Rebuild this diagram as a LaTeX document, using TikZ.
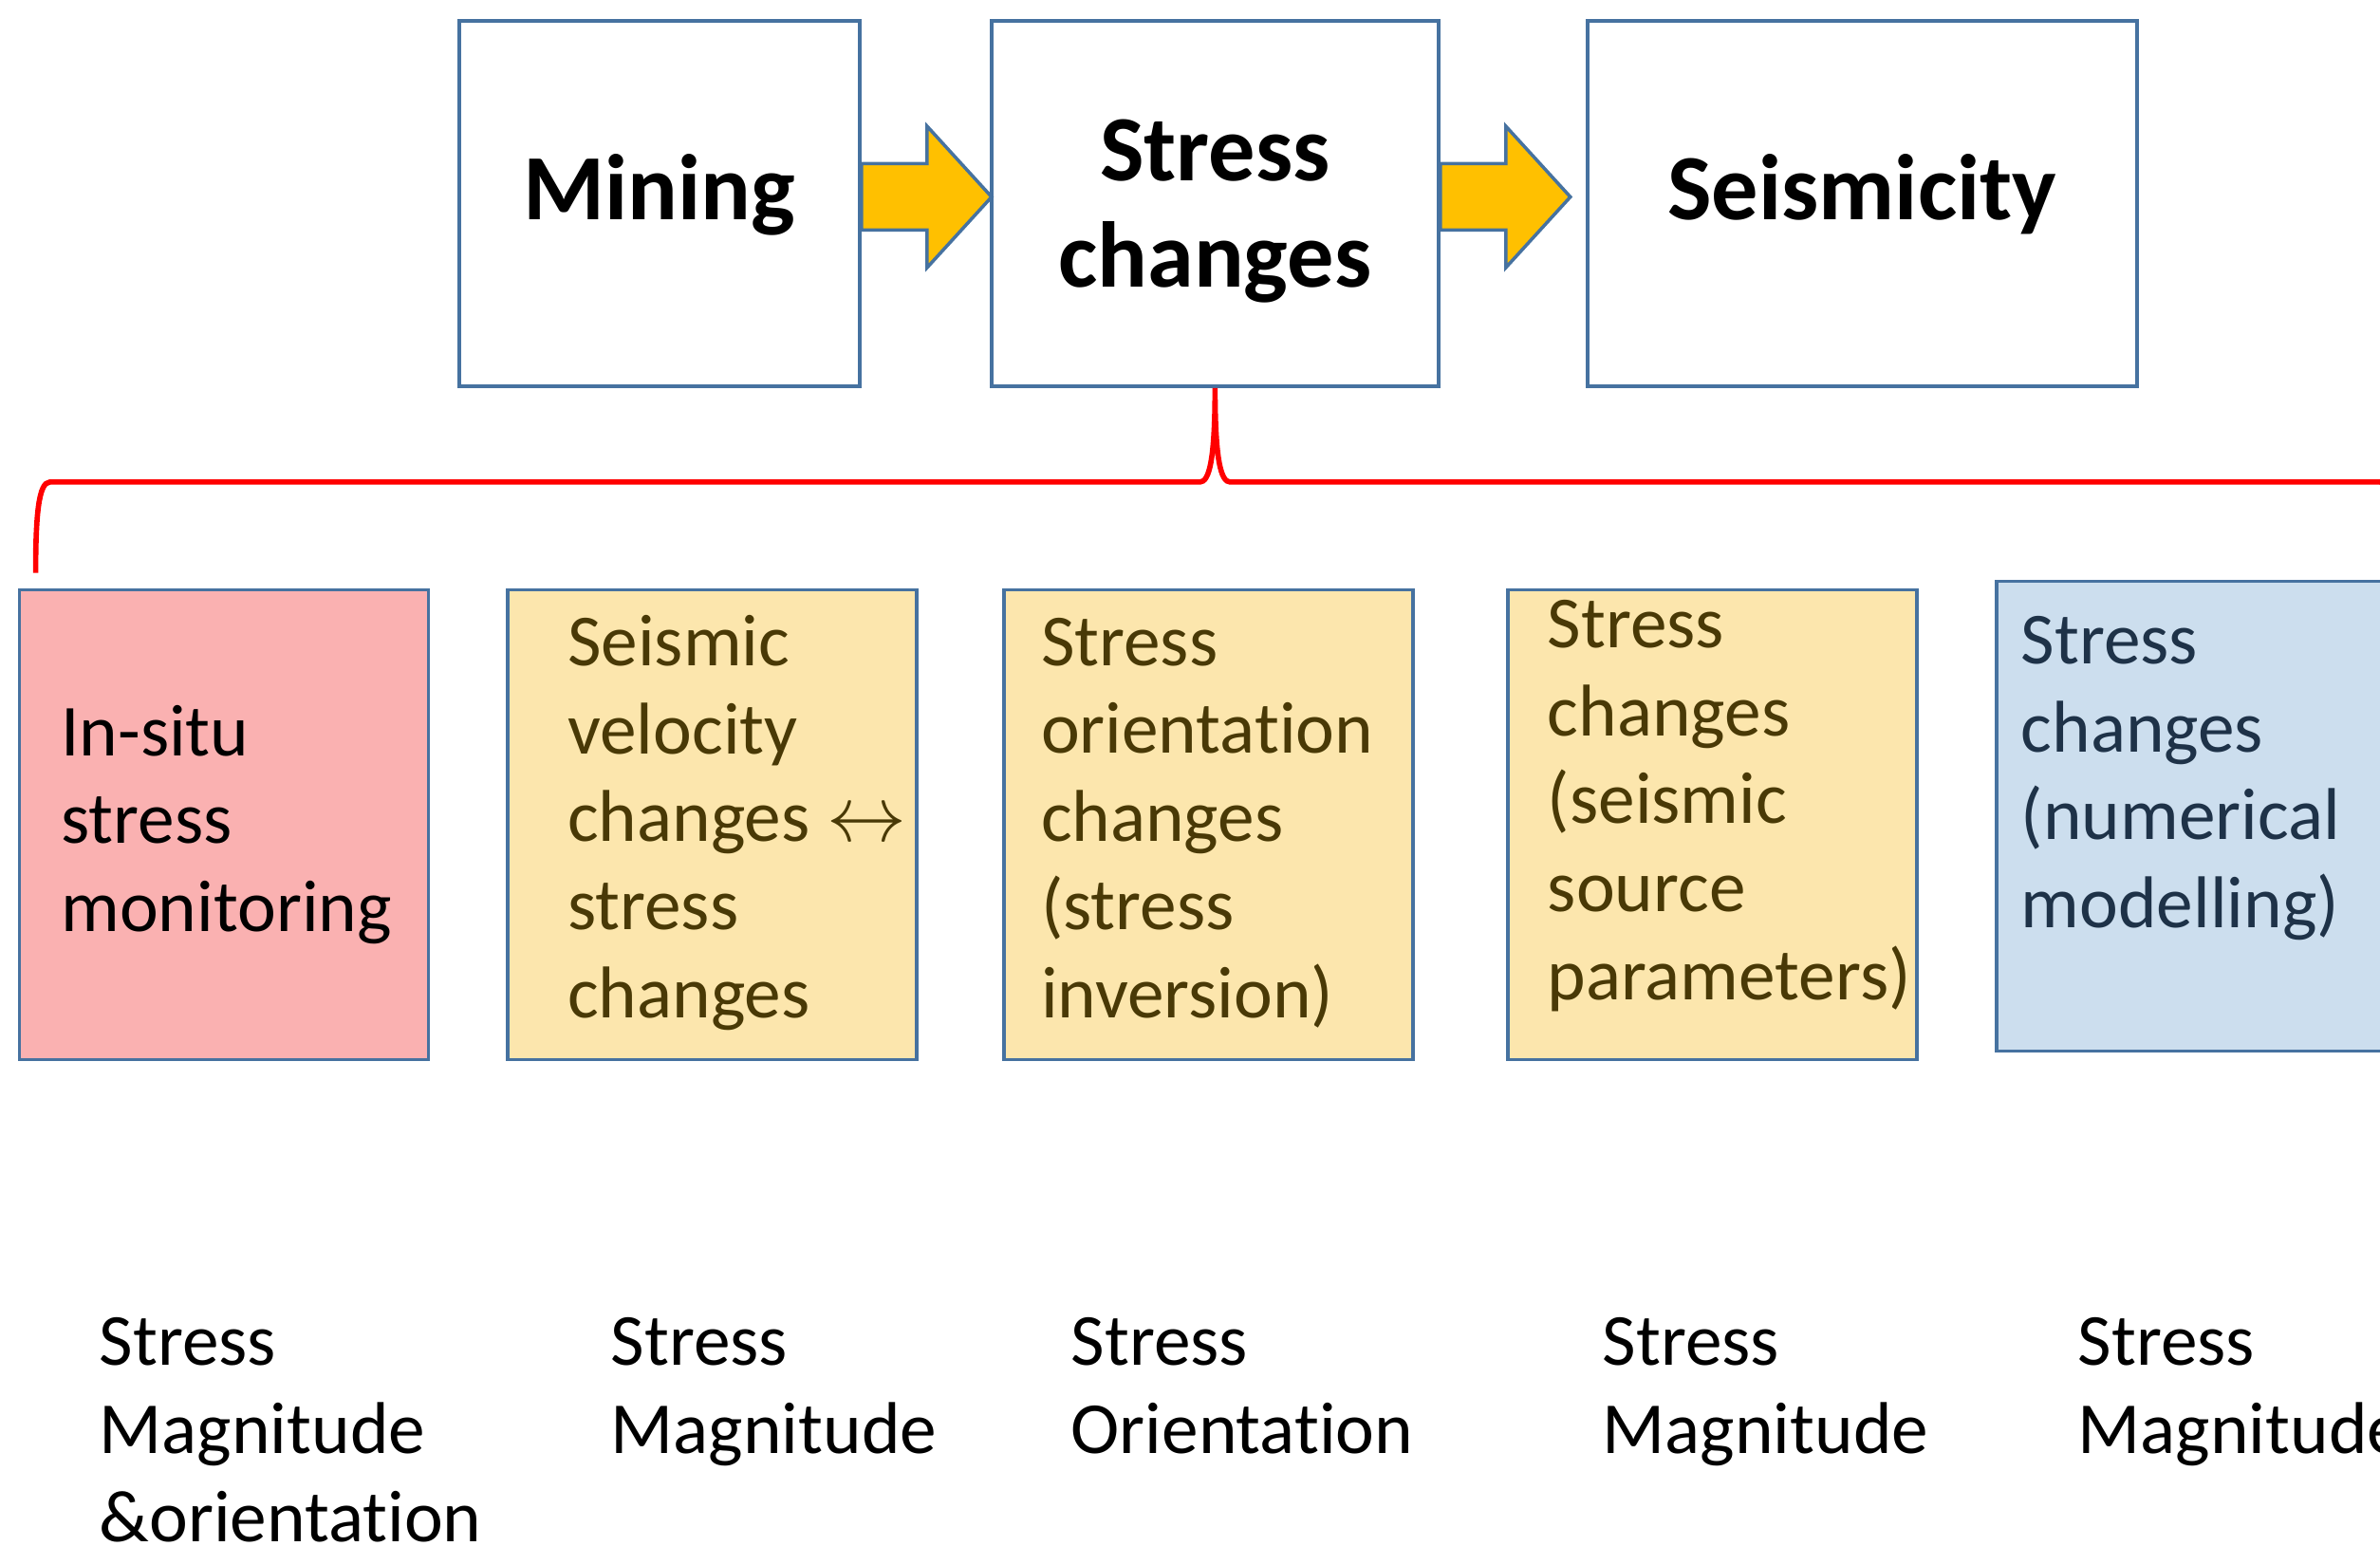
\documentclass[tikz,border=0pt]{standalone}
\usepackage{graphicx}
\usepackage{fontspec}
\setmainfont{Carlito}[Ligatures=NoCommon]
\usetikzlibrary{positioning,calc}

\definecolor{boxblue}{RGB}{70,114,160}
\definecolor{arrowgold}{RGB}{255,192,0}
\definecolor{pinkfill}{RGB}{250,177,177}
\definecolor{sandfill}{RGB}{252,230,173}
\definecolor{skyfill}{RGB}{204,222,238}
\definecolor{sandtext}{RGB}{73,57,6}
\definecolor{skytext}{RGB}{30,50,72}

\begin{document}
\begin{tikzpicture}[
        topbox/.style={
        draw=boxblue,
        line width=1.1pt,
        align=center,
        minimum height=3.85cm,
        font=\fontsize{28}{32}\selectfont\bfseries},
        lowbox/.style={
        draw=boxblue,
        line width=1.1pt,
        minimum width=4.31cm,
        minimum height=4.95cm},
        boxtext/.style={
        anchor=west,
        align=left,
        inner sep=0pt,
        font=\fontsize{22}{26.4}\selectfont},
        lbl/.style={
        anchor=north west,
        align=left,
        inner sep=0pt,
        font=\fontsize{22}{26.4}\selectfont},
        fatarrow/.style={draw=boxblue, line width=1pt, fill=arrowgold},
        bracket/.style={draw=red, line width=1.6pt}
        ]
        \path[use as bounding box, fill=white] (0,0) rectangle (25.08,-16.29);

        % chain on top
        \node[topbox, minimum width=4.22cm, text depth=10pt] (mining) at (6.95,-2.145) {Mining};
        \node[topbox, minimum width=4.71cm, right=1.35cm of mining] (stress) {\rule{0pt}{23pt}Stress\\changes};
        \node[topbox, minimum width=5.79cm, text depth=10pt, right=1.53cm of stress] (seismic) {Seismicity};

        \foreach \i in {mining, stress}
            \draw[fatarrow] ([yshift=0.42cm]\i.east) -- ++(0.69,0) -- ++(0,0.395)
                -- ++(0.68,-0.745) -- ++(-0.68,-0.745) -- ++(0,0.395) -- ++(-0.69,0) -- cycle;

        % ways of getting at the stress changes
        \node[lowbox, fill=pinkfill] (insitu) at (2.36,-8.69) {};
        \node[lowbox, fill=sandfill, right=0.80cm of insitu] (velocity) {};
        \node[lowbox, fill=sandfill, right=0.88cm of velocity] (orient) {};
        \node[lowbox, fill=sandfill, right=0.96cm of orient] (source) {};
        \node[lowbox, fill=skyfill, right=0.80cm of source, yshift=0.09cm] (numerical) {};

        \node[boxtext] (insitu-t) at ([xshift=0.45cm]insitu.west) {In-situ\\stress\\monitoring};
        \node[boxtext, text=sandtext] (velocity-t) at ([xshift=0.64cm, yshift=0.02cm]velocity.west)
            {Seismic\\velocity\\changes \scalebox{1.15}{$\leftrightarrow$}\\stress\\changes};
        \node[boxtext, text=sandtext] (orient-t) at ([xshift=0.40cm, yshift=0.02cm]orient.west)
            {Stress\\orientation\\changes\\(stress\\inversion)};
        \node[boxtext, text=sandtext] (source-t) at ([xshift=0.43cm, yshift=0.20cm]source.west)
            {Stress\\changes\\(seismic\\source\\parameters)};
        \node[boxtext, text=skytext] (numerical-t) at ([xshift=0.27cm, yshift=0.40cm]numerical.west)
            {Stress\\changes\\(numerical\\modelling)};

        % brace under the middle box
        \coordinate (tip) at (stress.south);
        \coordinate (mid) at ([yshift=-0.99cm]tip);
        \coordinate (lend) at ([shift={(0.19,0.16)}]insitu.north west);
        \coordinate (rend) at ($2*(tip |- lend)-(lend)$);
        \draw[bracket] (lend) .. controls +(0,0.6) and +(-0.12,0) .. ($(lend |- mid)+(0.15,0)$)
            -- ($(mid)+(-0.16,0)$) .. controls +(0.10,0) and +(0,-0.75) .. (tip)
            .. controls +(0,-0.75) and +(-0.10,0) .. ($(mid)+(0.16,0)$)
            -- ($(rend |- mid)+(-0.15,0)$) .. controls +(0.12,0) and +(0,0.6) .. (rend);

        % what each one gives
        \node[lbl] (magA) at (1.04,-13.88) {Stress\\Magnitude\\\&orientation};
        \node[lbl] (magB) at (6.43,-13.88) {Stress\\Magnitude};
        \node[lbl] (orientC) at (11.28,-13.88) {Stress\\Orientation};
        \node[lbl] (magD) at (16.88,-13.88) {Stress\\Magnitude};
        \node[lbl] (magE) at (21.89,-13.88) {Stress\\Magnitude};
\end{tikzpicture}
\end{document}
